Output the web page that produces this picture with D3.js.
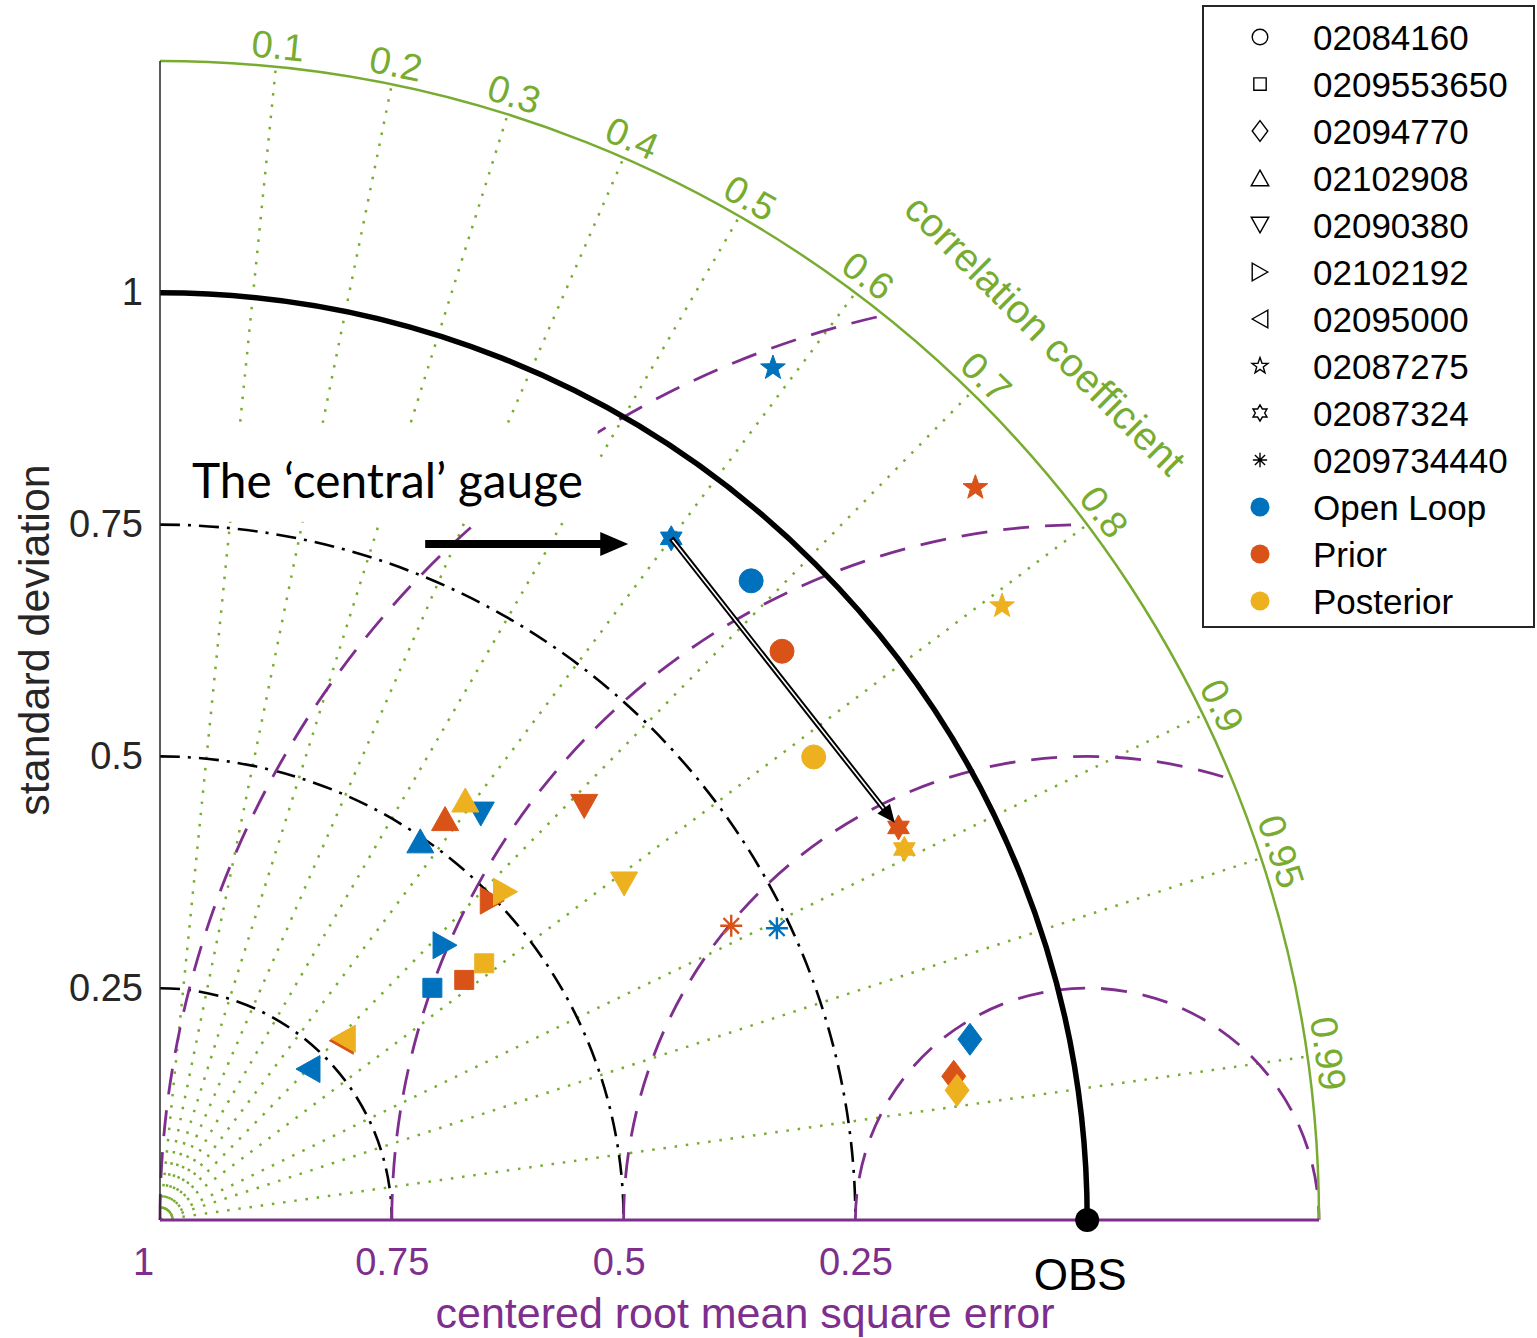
<!DOCTYPE html>
<html lang="en">
<head>
<meta charset="UTF-8" />
<title>Taylor diagram</title>
<script src="https://d3js.org/d3.v7.min.js"></script>
<style>
  body { margin: 0; background: #fff; }
  svg text { font-family: "Liberation Sans", Arial, sans-serif; }
</style>
</head>
<body>
<div id="chart"></div>
<script>
// ---- data (standard deviation / correlation, normalised by OBS) ----
const stations = ["02084160", "0209553650", "02094770", "02102908", "02090380",
                  "02102192", "02095000", "02087275", "02087324", "0209734440"];
const shapes = ["circle", "square", "diamond", "triUp", "triDown",
                "triRight", "triLeft", "star", "hexagram", "asterisk"];
const seriesNames = ["Open Loop", "Prior", "Posterior"];
const stdOpen  = [0.939, 0.386, 0.895, 0.496, 0.558, 0.427, 0.228, 1.132, 0.919, 0.736];
const corOpen  = [0.679, 0.761, 0.976, 0.566, 0.620, 0.720, 0.700, 0.584, 0.600, 0.904];
const stdPrior = [0.909, 0.418, 0.870, 0.531, 0.639, 0.497, 0.275, 1.182, 0.902, 0.693];
const corPrior = [0.738, 0.785, 0.984, 0.579, 0.716, 0.721, 0.711, 0.744, 0.883, 0.889];
const stdPost  = [0.864, 0.446, 0.871, 0.560, 0.618, 0.514, 0.278, 1.124, 0.897, null];
const corPost  = [0.816, 0.784, 0.987, 0.588, 0.810, 0.725, 0.711, 0.808, 0.895, null];

const stdTicks = [0.25, 0.5, 0.75, 1];
const rmsTicks = [1, 0.75, 0.5, 0.25];
const corTicks = [0.1, 0.2, 0.3, 0.4, 0.5, 0.6, 0.7, 0.8, 0.9, 0.95, 0.99];
const stdMax = 1.25;
const obsStd = 1;

const colors = ["#0072BD", "#D95319", "#EDB120"];
const green = "#77AC30", purple = "#7E2F8E";

const W = 1537, H = 1338;
const ox = 160, oy = 1220;

const svg = d3.select("#chart").append("svg")
    .attr("width", W).attr("height", H);

const R = d3.scaleLinear().domain([0, stdMax]).range([0, 1159]);
const stdY = d3.scaleLinear().domain([0, stdMax]).range([oy, oy - R(stdMax)]);
const rmsX = d3.scaleLinear().domain([0, obsStd]).range([ox + R(obsStd), ox]);

// polar (std, corr) -> pixel
function pos(s, c) {
    const t = Math.acos(c);
    return [ox + R(s) * Math.cos(t), oy - R(s) * Math.sin(t)];
}
// cartesian std units -> pixel
function xy(x, y) { return [ox + R(x), oy - R(y)]; }

const grid = svg.append("g");

// correlation rays (dotted green)
corTicks.forEach(c => {
    const p = pos(stdMax, c);
    grid.append("line")
        .attr("x1", ox).attr("y1", oy).attr("x2", p[0]).attr("y2", p[1])
        .attr("stroke", green).attr("stroke-width", 2.5)
        .attr("stroke-dasharray", "2.5 8.8");
});

// std dev arcs (dash-dot black)
stdTicks.filter(s => s !== obsStd).forEach(s => {
    const p = d3.path();
    p.moveTo(ox, oy - R(s));
    p.arc(ox, oy, R(s), -Math.PI / 2, 0);
    grid.append("path").attr("d", p.toString())
        .attr("fill", "none").attr("stroke", "#000").attr("stroke-width", 2.6)
        .attr("stroke-dasharray", "20 8 3 8");
});

// centred RMS arcs around OBS (dashed purple), clipped to outer circle
rmsTicks.forEach(e => {
    const xi = (obsStd * obsStd + stdMax * stdMax - e * e) / (2 * obsStd);
    let a1;
    if (xi >= stdMax) a1 = 2 * Math.PI;
    else {
        const yi = Math.sqrt(stdMax * stdMax - xi * xi);
        a1 = Math.atan2(-yi, xi - obsStd) + 2 * Math.PI;
    }
    const cx = ox + R(obsStd);
    const p = d3.path();
    p.moveTo(cx - R(e), oy);
    p.arc(cx, oy, R(e), Math.PI, a1);
    grid.append("path").attr("d", p.toString())
        .attr("fill", "none").attr("stroke", purple).attr("stroke-width", 2.8)
        .attr("stroke-dasharray", "26 16");
});

// outer arc
{
    const p = d3.path();
    p.moveTo(ox, oy - R(stdMax));
    p.arc(ox, oy, R(stdMax), -Math.PI / 2, 0);
    svg.append("path").attr("d", p.toString())
        .attr("fill", "none").attr("stroke", green).attr("stroke-width", 2.5);
}
// reference arc (std = 1)
{
    const p = d3.path();
    p.moveTo(ox, oy - R(obsStd));
    p.arc(ox, oy, R(obsStd), -Math.PI / 2, 0);
    svg.append("path").attr("d", p.toString())
        .attr("fill", "none").attr("stroke", "#000").attr("stroke-width", 5.5);
}

// correlation labels
corTicks.forEach(c => {
    const t = Math.acos(c);
    const rr = 1180;
    const x = ox + rr * Math.cos(t), y = oy - rr * Math.sin(t);
    svg.append("text")
        .attr("transform", `translate(${x},${y}) rotate(${90 - t * 180 / Math.PI})`)
        .attr("text-anchor", "middle").attr("dominant-baseline", "central")
        .attr("fill", green).style("font-size", "38px")
        .text(String(c));
});
{
    const t = Math.PI / 4, rr = 1252;
    svg.append("text")
        .attr("transform", `translate(${ox + rr * Math.cos(t)},${oy - rr * Math.sin(t)}) rotate(45)`)
        .attr("text-anchor", "middle").attr("dominant-baseline", "central")
        .attr("fill", green).style("font-size", "40px")
        .text("correlation coefficient");
}

// left axis (standard deviation)
svg.append("line")
    .attr("x1", ox).attr("y1", stdY(stdMax)).attr("x2", ox).attr("y2", oy)
    .attr("stroke", "#262626").attr("stroke-width", 1.5);
const yAxis = svg.append("g")
    .attr("transform", `translate(${ox},0)`)
    .call(d3.axisLeft(stdY).tickValues(stdTicks).tickSize(0).tickPadding(17)
        .tickFormat(d => String(d)));
yAxis.select(".domain").remove();
yAxis.selectAll("text")
    .style("font-size", "38px").attr("fill", "#262626")
    .attr("font-family", "Liberation Sans, Arial, sans-serif");

svg.append("text")
    .attr("transform", `translate(49,640) rotate(-90)`)
    .attr("text-anchor", "middle").attr("fill", "#262626")
    .style("font-size", "43px")
    .text("standard deviation");

// bottom axis (centred RMS error)
svg.append("line")
    .attr("x1", ox).attr("y1", oy).attr("x2", ox + R(stdMax)).attr("y2", oy)
    .attr("stroke", purple).attr("stroke-width", 3);
const xAxis = svg.append("g")
    .attr("transform", `translate(0,${oy})`)
    .call(d3.axisBottom(rmsX).tickValues(rmsTicks).tickSize(0).tickPadding(28)
        .tickFormat(d => String(d)));
xAxis.select(".domain").remove();
xAxis.selectAll("text")
    .style("font-size", "38px").attr("fill", purple)
    .attr("font-family", "Liberation Sans, Arial, sans-serif")
    .attr("dx", d => d === 1 ? -17 : (d === 0.5 ? -5 : 0));

svg.append("text")
    .attr("x", 745).attr("y", 1328)
    .attr("text-anchor", "middle").attr("fill", purple)
    .style("font-size", "43px")
    .text("centered root mean square error");

// OBS point
svg.append("circle")
    .attr("cx", ox + R(obsStd)).attr("cy", oy).attr("r", 12).attr("fill", "#000");
svg.append("text")
    .attr("x", ox + R(obsStd) - 7).attr("y", 1290)
    .attr("text-anchor", "middle").attr("fill", "#000")
    .style("font-size", "44px")
    .text("OBS");

// ---- marker shapes ----
function tri(w, h, dir) {
    let pts;
    if (dir === "up") pts = [[0, -h / 2], [w / 2, h / 2], [-w / 2, h / 2]];
    if (dir === "down") pts = [[0, h / 2], [w / 2, -h / 2], [-w / 2, -h / 2]];
    if (dir === "right") pts = [[w / 2, 0], [-w / 2, -h / 2], [-w / 2, h / 2]];
    if (dir === "left") pts = [[-w / 2, 0], [w / 2, -h / 2], [w / 2, h / 2]];
    return "M" + pts.map(p => p.join(",")).join("L") + "Z";
}
function starPath(n, ro, ri) {
    const pts = [];
    for (let i = 0; i < 2 * n; i++) {
        const a = -Math.PI / 2 + i * Math.PI / n;
        const rr = i % 2 === 0 ? ro : ri;
        pts.push([rr * Math.cos(a), rr * Math.sin(a)]);
    }
    return "M" + pts.map(p => p.join(",")).join("L") + "Z";
}
function asteriskPath(rr) {
    let d = "";
    for (let i = 0; i < 4; i++) {
        const a = i * Math.PI / 4;
        d += `M${-rr * Math.cos(a)},${-rr * Math.sin(a)}L${rr * Math.cos(a)},${rr * Math.sin(a)}`;
    }
    return d;
}
function circlePath(rr) {
    const p = d3.path();
    p.moveTo(rr, 0);
    p.arc(0, 0, rr, 0, 2 * Math.PI);
    p.closePath();
    return p.toString();
}
function shapePath(shape, k) {
    switch (shape) {
        case "circle": return circlePath(12 * k);
        case "square": { const s = 9.5 * k; return `M${-s},${-s}H${s}V${s}H${-s}Z`; }
        case "diamond": return `M0,${-16 * k}L${12 * k},0L0,${16 * k}L${-12 * k},0Z`;
        case "triUp": return tri(27 * k, 24 * k, "up");
        case "triDown": return tri(27 * k, 24 * k, "down");
        case "triRight": return tri(24 * k, 27 * k, "right");
        case "triLeft": return tri(24 * k, 27 * k, "left");
        case "star": return starPath(5, 13 * k, 5.3 * k);
        case "hexagram": return starPath(6, 12.5 * k, 7.2 * k);
        case "asterisk": return asteriskPath(11 * k);
    }
}

// ---- annotation: white label box, text, arrows ----
{
    const a = xy(0.003, 0.852), b = xy(0.472, 0.753);
    svg.append("rect")
        .attr("x", a[0]).attr("y", a[1])
        .attr("width", b[0] - a[0]).attr("height", b[1] - a[1])
        .attr("fill", "#fff");
    const tp = xy(0.0345, 0.779);
    const lab = svg.append("text")
        .attr("x", tp[0]).attr("y", tp[1])
        .style("font-family", "Lato, 'Open Sans', sans-serif")
        .style("font-size", "46px").attr("fill", "#000")
        .text("The \u2018central\u2019 gauge");
    const len = lab.node().getComputedTextLength();
    lab.style("font-size", (46 * 391 / len) + "px");

    const s0 = xy(0.286, 0.729), s1 = xy(0.505, 0.729);
    svg.append("line")
        .attr("x1", s0[0]).attr("y1", s0[1]).attr("x2", s1[0] - 26).attr("y2", s1[1])
        .attr("stroke", "#000").attr("stroke-width", 8);
    svg.append("path")
        .attr("d", `M${s1[0]},${s1[1]}L${s1[0] - 28},${s1[1] - 12}L${s1[0] - 28},${s1[1] + 12}Z`)
        .attr("fill", "#000");
}

// ---- data markers ----
const series = [[stdOpen, corOpen], [stdPrior, corPrior], [stdPost, corPost]];
const marks = svg.append("g");
series.forEach(([sd, cr], si) => {
    stations.forEach((st, i) => {
        if (sd[i] == null) return;
        const p = pos(sd[i], cr[i]);
        const sh = shapes[i];
        const path = marks.append("path")
            .attr("transform", `translate(${p[0]},${p[1]})`)
            .attr("d", shapePath(sh, 1));
        if (sh === "asterisk") {
            path.attr("fill", "none").attr("stroke", colors[si]).attr("stroke-width", 2.4);
            marks.append("circle").attr("cx", p[0]).attr("cy", p[1]).attr("r", 2.5)
                .attr("fill", colors[si]);
        } else {
            path.attr("fill", colors[si]).attr("stroke", colors[si]).attr("stroke-width", 1);
        }
    });
});

// double-line arrow from Open Loop to Prior of the central gauge
{
    const i = stations.indexOf("02087324");
    const a = pos(stdOpen[i], corOpen[i]), b0 = pos(stdPrior[i], corPrior[i]);
    const dx = b0[0] - a[0], dy = b0[1] - a[1], L = Math.hypot(dx, dy);
    const ux = dx / L, uy = dy / L;
    const tip = [b0[0] - ux * 6, b0[1] - uy * 6];
    const base = [tip[0] - ux * 18, tip[1] - uy * 18];
    svg.append("line")
        .attr("x1", a[0]).attr("y1", a[1]).attr("x2", base[0] + ux * 2).attr("y2", base[1] + uy * 2)
        .attr("stroke", "#000").attr("stroke-width", 5.5);
    svg.append("line")
        .attr("x1", a[0] + ux * 2).attr("y1", a[1] + uy * 2).attr("x2", base[0]).attr("y2", base[1])
        .attr("stroke", "#fff").attr("stroke-width", 1.6);
    svg.append("path")
        .attr("d", `M${tip[0]},${tip[1]}L${base[0] - uy * 8},${base[1] + ux * 8}L${base[0] + uy * 8},${base[1] - ux * 8}Z`)
        .attr("fill", "#000");
}

// ---- legend ----
const legend = svg.append("g");
legend.append("rect")
    .attr("x", 1203).attr("y", 6).attr("width", 331).attr("height", 621)
    .attr("fill", "#fff").attr("stroke", "#262626").attr("stroke-width", 2);
const rowY = i => 37 + i * 47;
stations.forEach((st, i) => {
    legend.append("path")
        .attr("transform", `translate(1260,${rowY(i)})`)
        .attr("d", shapePath(shapes[i], 0.65))
        .attr("fill", "none").attr("stroke", "#000").attr("stroke-width", 1.4);
    legend.append("text")
        .attr("x", 1313).attr("y", rowY(i)).attr("dominant-baseline", "central")
        .style("font-size", "35px").attr("fill", "#000").text(st);
});
seriesNames.forEach((nm, j) => {
    const i = stations.length + j;
    legend.append("circle")
        .attr("cx", 1260).attr("cy", rowY(i)).attr("r", 9.5).attr("fill", colors[j]);
    legend.append("text")
        .attr("x", 1313).attr("y", rowY(i)).attr("dominant-baseline", "central")
        .style("font-size", "35px").attr("fill", "#000").text(nm);
});
</script>
</body>
</html>
